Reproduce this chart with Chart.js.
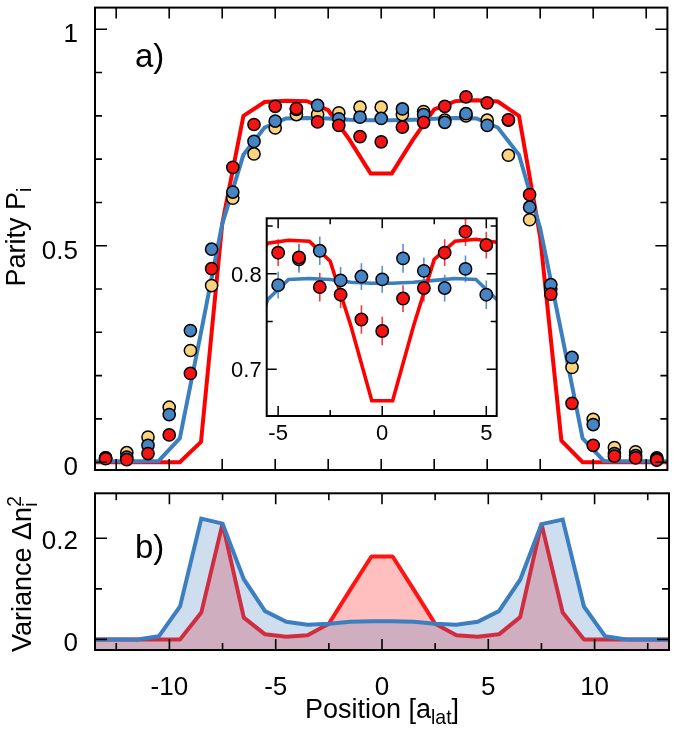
<!DOCTYPE html>
<html>
<head>
<meta charset="utf-8">
<script src="https://cdn.jsdelivr.net/npm/chart.js@4.4.1/dist/chart.umd.min.js"></script>
<style>
  html, body { margin: 0; padding: 0; background: #fff; }
  body { width: 675px; height: 731px; position: relative; overflow: hidden;
         font-family: "Liberation Sans", Arial, Helvetica, sans-serif; }
  canvas { position: absolute; }
  .lbl { position: absolute; color: #000; white-space: nowrap; line-height: 1; }
  .s { position: relative; font-size: 0.72em; }
</style>
</head>
<body>
<canvas id="cA" width="675" height="480" style="left:0;top:0;z-index:1"></canvas>
<canvas id="cB" width="675" height="251" style="left:0;top:480px;z-index:1"></canvas>
<canvas id="cI" width="300" height="240" style="left:206px;top:208px;z-index:2"></canvas>

<div class="lbl" style="left:135px;top:39px;font-size:33px;z-index:3">a)</div>
<div class="lbl" style="left:135px;top:530px;font-size:33px;z-index:3">b)</div>
<div class="lbl" style="left:382px;top:696px;font-size:27px;transform:translateX(-50%);z-index:3">Position [a<span class="s" style="top:0.32em">lat</span>]</div>
<div class="lbl" style="left:15.6px;top:237px;font-size:27px;transform:translate(-50%,-50%) rotate(-90deg);z-index:3">Parity P<span class="s" style="top:0.32em">i</span></div>
<div class="lbl" style="left:21.6px;top:574px;font-size:27px;transform:translate(-50%,-50%) rotate(-90deg);z-index:3">Variance Δn<span class="s" style="top:0.32em">i</span><span class="s" style="top:-0.5em;margin-left:-0.222em">2</span></div>

<script>
// ---------------- data ----------------
const positions = [-13,-12,-11,-10,-9,-8,-7,-6,-5,-4,-3,-2,-1,0,1,2,3,4,5,6,7,8,9,10,11,12,13];
const parityRed    = [0.008,0.006,0.020,0.063,0.205,0.447,0.681,0.780,0.822,0.817,0.786,0.778,0.752,0.740,0.774,0.785,0.822,0.844,0.830,0.791,0.618,0.388,0.136,0.039,0.014,0.010,0.005];
const parityBlue   = [0.010,0.012,0.039,0.110,0.304,0.492,0.624,0.741,0.788,0.815,0.824,0.793,0.797,0.794,0.816,0.803,0.785,0.805,0.778,0.790,0.589,0.410,0.242,0.087,0.020,0.015,0.008];
const parityYellow = [0.010,0.022,0.058,0.127,0.258,0.408,0.610,0.712,0.772,0.803,0.803,0.807,0.820,0.820,0.803,0.810,0.790,0.800,0.790,0.709,0.560,0.400,0.219,0.099,0.034,0.024,0.010];

// error bars shown in the inset (positions -5..5)
const errPositions = [-5,-4,-3,-2,-1,0,1,2,3,4,5];
const errRed  = [0.014,0.014,0.015,0.014,0.015,0.015,0.014,0.014,0.014,0.015,0.014];
const errBlue = [0.014,0.014,0.015,0.014,0.014,0.014,0.015,0.014,0.014,0.014,0.015];

const thPositions = [-13.5,-12.5,-11.5,-10.5,-9.5,-8.5,-7.5,-6.5,-5.5,-4.5,-3.5,-2.5,-1.5,-0.5,0.5,1.5,2.5,3.5,4.5,5.5,6.5,7.5,8.5,9.5,10.5,11.5,12.5,13.5];
const theoryRed  = [0,0,0,0,0,0.047,0.55,0.80,0.832,0.835,0.834,0.813,0.745,0.667,0.667,0.745,0.815,0.834,0.836,0.833,0.80,0.52,0.05,0,0,0,0,0];
const theoryBlue = [0.002,0.002,0.002,0.003,0.055,0.30,0.55,0.71,0.773,0.794,0.795,0.794,0.791,0.790,0.790,0.791,0.793,0.795,0.794,0.773,0.71,0.54,0.30,0.055,0.003,0.002,0.002,0.002];
const varianceRed  = [0,0,0,0,0,0.053,0.229,0.043,0.010,0.005,0.008,0.031,0.098,0.164,0.164,0.098,0.031,0.008,0.005,0.010,0.044,0.229,0.053,0,0,0,0,0];
const varianceBlue = [0,0,0,0.006,0.065,0.239,0.229,0.119,0.056,0.035,0.029,0.031,0.035,0.036,0.036,0.035,0.031,0.029,0.035,0.056,0.118,0.228,0.237,0.065,0.006,0,0,0];

// ticks
const xTicksMajor = [-10,-5,0,5,10];
const xTicksMinor = [-12.5,-7.5,-2.5,2.5,7.5,12.5];
const yTicksA = [0,0.5,1];
const yMinorA = [0.1,0.2,0.3,0.4,0.6,0.7,0.8,0.9];
const yTicksB = [0,0.2];
const yMinorB = [0.1];
const xTicksInset = [-5,0,5];
const xMinorInset = [-2.5,2.5];
const yTicksInset = [0.7,0.8];
const yMinorInset = [0.75,0.85];

// ---------------- helpers ----------------
const FONT = "'Liberation Sans', Arial, Helvetica, sans-serif";
const RED = '#ff0000', RED_PT = '#f41414', BLUE = '#3c7fc0', BLUE_PT = '#4684c4', YEL_PT = '#fcd27c';
const xy = (xs, ys) => xs.map((x, i) => ({x, y: ys[i]}));
const fmt = v => String(+v.toFixed(3));

const frameTicks = {
  id: 'frameTicks',
  beforeDraw(chart, args, o) {
    if (o.bg) {
      const a = chart.chartArea, c = chart.ctx;
      c.save(); c.fillStyle = '#fff';
      c.fillRect(a.left, a.top, a.right - a.left, a.bottom - a.top);
      c.restore();
    }
  },
  afterDraw(chart, args, o) {
    const c = chart.ctx, a = chart.chartArea, xs = chart.scales.x, ys = chart.scales.y;
    c.save();
    c.strokeStyle = '#000';
    c.lineWidth = o.tickWidth;
    c.beginPath();
    const vx = (vals, len) => vals.forEach(v => {
      const p = xs.getPixelForValue(v);
      c.moveTo(p, a.bottom); c.lineTo(p, a.bottom - len);
      c.moveTo(p, a.top); c.lineTo(p, a.top + len);
    });
    const vy = (vals, len) => vals.forEach(v => {
      const p = ys.getPixelForValue(v);
      c.moveTo(a.left, p); c.lineTo(a.left + len, p);
      c.moveTo(a.right, p); c.lineTo(a.right - len, p);
    });
    vx(o.xMajor, o.xMajorLen); vx(o.xMinor, o.xMinorLen);
    vy(o.yMajor, o.yMajorLen); vy(o.yMinor, o.yMinorLen);
    c.stroke();
    c.lineWidth = o.frameWidth;
    c.strokeRect(a.left, a.top, a.right - a.left, a.bottom - a.top);
    c.restore();
  }
};

const errorBars = {
  id: 'errorBars',
  beforeDatasetsDraw(chart) {
    const c = chart.ctx, a = chart.chartArea, xs = chart.scales.x, ys = chart.scales.y;
    c.save();
    c.beginPath(); c.rect(a.left, a.top, a.right - a.left, a.bottom - a.top); c.clip();
    chart.data.datasets.forEach(ds => {
      if (!ds.errors) return;
      c.strokeStyle = ds.errColor; c.lineWidth = 1.6;
      c.beginPath();
      ds.errors.forEach(e => {
        const px = xs.getPixelForValue(e.x);
        c.moveTo(px, ys.getPixelForValue(e.y - e.e));
        c.lineTo(px, ys.getPixelForValue(e.y + e.e));
      });
      c.stroke();
    });
    c.restore();
  }
};

function yAxis(min, max, ticks, size, padding, labelOffset, width) {
  return {
    type: 'linear', min, max,
    afterBuildTicks(s) { s.ticks = ticks.map(v => ({value: v})); },
    afterFit(s) { s.width = width; s.paddingTop = 0; s.paddingBottom = 0; },
    ticks: { font: {family: FONT, size}, color: '#000', padding, labelOffset, callback: v => fmt(v) },
    grid: { display: false, drawTicks: false },
    border: { display: false }
  };
}
function xAxis(min, max, ticks, show, size, padding, height) {
  return {
    type: 'linear', min, max,
    afterBuildTicks(s) { s.ticks = ticks.map(v => ({value: v})); },
    afterFit(s) { s.height = height; s.paddingLeft = 0; s.paddingRight = 0; },
    ticks: { display: show, font: {family: FONT, size}, color: '#000', padding, maxRotation: 0, autoSkip: false, callback: v => fmt(v) },
    grid: { display: false, drawTicks: false },
    border: { display: false }
  };
}
function pointSet(data, color, order, radius) {
  return { data, showLine: false, pointRadius: radius, pointBackgroundColor: color,
           pointBorderColor: '#000', pointBorderWidth: 1.5, order };
}
function lineSet(data, color, order, width) {
  return { data, borderColor: color, borderWidth: width, pointRadius: 0, fill: false,
           tension: 0, order };
}
const common = {
  responsive: false, animation: false, devicePixelRatio: 1,
  events: [],
  plugins: { legend: {display: false}, tooltip: {enabled: false} }
};

// ---------------- panel a ----------------
new Chart(document.getElementById('cA'), {
  type: 'line',
  data: { datasets: [
    pointSet(xy(positions, parityRed), RED_PT, 0, 6.1),
    pointSet(xy(positions, parityBlue), BLUE_PT, 1, 6.1),
    pointSet(xy(positions, parityYellow), YEL_PT, 2, 6.1),
    lineSet(xy(thPositions, theoryBlue), BLUE, 3, 4),
    lineSet(xy(thPositions, theoryRed), RED, 4, 4)
  ]},
  options: Object.assign({}, common, {
    layout: { padding: {top: 4, right: 6, left: 0, bottom: 0} },
    scales: {
      x: xAxis(-13.5, 13.5, xTicksMajor, false, 26, 0, 10),
      y: yAxis(-0.018, 1.05, yTicksA, 26, 17, 6, 95)
    },
    plugins: Object.assign({}, common.plugins, {
      frameTicks: { xMajor: xTicksMajor, xMinor: xTicksMinor, yMajor: yTicksA, yMinor: yMinorA,
                    xMajorLen: 11, xMinorLen: 11, yMajorLen: 12, yMinorLen: 7,
                    tickWidth: 1.6, frameWidth: 2, bg: false }
    })
  }),
  plugins: [frameTicks]
});

// ---------------- panel b ----------------
new Chart(document.getElementById('cB'), {
  type: 'line',
  data: { datasets: [
    { data: xy(thPositions, varianceBlue), borderColor: BLUE, borderWidth: 4, pointRadius: 0,
      fill: 'start', backgroundColor: 'rgba(60,125,192,0.25)', order: 0 },
    { data: xy(thPositions, varianceRed), borderColor: '#ff1414', borderWidth: 4, pointRadius: 0,
      borderJoinStyle: 'bevel',
      fill: 'start', backgroundColor: 'rgba(255,0,0,0.25)', order: 1 }
  ]},
  options: Object.assign({}, common, {
    layout: { padding: {top: 13.3, right: 6, left: 0, bottom: 0} },
    scales: {
      x: xAxis(-13.5, 13.5, xTicksMajor, true, 26, 22, 81),
      y: yAxis(-0.021, 0.289, yTicksB, 26, 17, 4, 95)
    },
    plugins: Object.assign({}, common.plugins, {
      frameTicks: { xMajor: xTicksMajor, xMinor: xTicksMinor, yMajor: yTicksB, yMinor: yMinorB,
                    xMajorLen: 11, xMinorLen: 7, yMajorLen: 12, yMinorLen: 7,
                    tickWidth: 1.6, frameWidth: 2, bg: false }
    })
  }),
  plugins: [frameTicks]
});

// ---------------- inset ----------------
const redInset = pointSet(xy(positions, parityRed), RED_PT, 0, 6.2);
redInset.errors = errPositions.map((x, i) => ({x, y: parityRed[positions.indexOf(x)], e: errRed[i]}));
redInset.errColor = '#f03c3c';
const blueInset = pointSet(xy(positions, parityBlue), BLUE_PT, 1, 6.2);
blueInset.errors = errPositions.map((x, i) => ({x, y: parityBlue[positions.indexOf(x)], e: errBlue[i]}));
blueInset.errColor = '#5592cf';

new Chart(document.getElementById('cI'), {
  type: 'line',
  data: { datasets: [
    redInset,
    blueInset,
    lineSet(xy(thPositions, theoryRed), RED, 2, 3.6),
    lineSet(xy(thPositions, theoryBlue), BLUE, 3, 3.6)
  ]},
  options: Object.assign({}, common, {
    layout: { padding: {top: 10.3, right: 9.3, left: 0, bottom: 0} },
    scales: {
      x: xAxis(-5.55, 5.5, xTicksInset, true, 22, 5, 32),
      y: yAxis(0.651, 0.858, yTicksInset, 22, 5, 2, 60.7)
    },
    plugins: Object.assign({}, common.plugins, {
      frameTicks: { xMajor: xTicksInset, xMinor: xMinorInset, yMajor: yTicksInset, yMinor: yMinorInset,
                    xMajorLen: 10, xMinorLen: 6, yMajorLen: 10, yMinorLen: 6,
                    tickWidth: 1.5, frameWidth: 2, bg: true }
    })
  }),
  plugins: [frameTicks, errorBars]
});
</script>
</body>
</html>
